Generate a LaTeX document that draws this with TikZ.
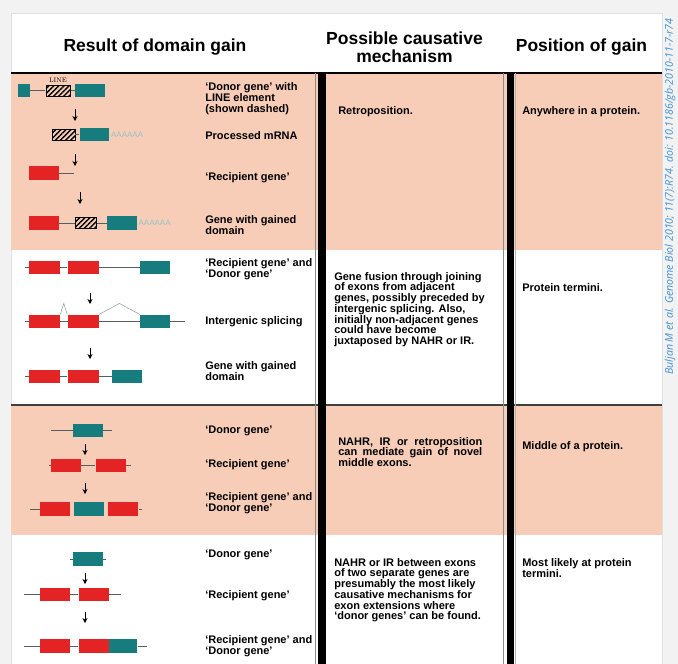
\documentclass[tikz,border=0pt]{standalone}
\usepackage{fontspec}
\setsansfont{Liberation Sans}
\newfontfamily\sidefont{Open Sans}
\usetikzlibrary{arrows.meta, positioning, patterns.meta}

\definecolor{exred}{RGB}{228,36,36}
\definecolor{exteal}{RGB}{22,124,126}
\definecolor{peach}{RGB}{248,205,183}
\definecolor{pagegray}{RGB}{242,242,242}
\definecolor{doiblue}{RGB}{62,144,212}
\definecolor{introngray}{RGB}{85,95,95}
\definecolor{splicegray}{RGB}{150,165,175}

\begin{document}
\begin{tikzpicture}[
            x = 1pt, y = -1pt,
            > = {Stealth[length=5pt, width=5pt]},
            semithick
        ]

        \tikzstyle{exon}=[inner sep=0, minimum width=30pt, minimum height=13.5pt]
        \tikzstyle{red exon}=[exon, fill=exred]
        \tikzstyle{teal exon}=[exon, fill=exteal]
        \tikzstyle{line exon}=[exon, draw=black, thin, minimum height=11pt,
            pattern={Lines[angle=45, distance=3.6pt, line width=1.4pt]}, pattern color=black]
        \tikzstyle{intron}=[draw=introngray, line width=0.7pt]
        \tikzstyle{splice}=[draw=splicegray, line width=0.6pt]
        \tikzstyle{step arrow}=[->, line width=0.9pt]
        \tikzstyle{polya}=[inner sep=0, text=exteal!45, font=\sffamily\fontsize{8}{8}\selectfont]
        \tikzstyle{rowtext}=[anchor=north west, inner sep=0, align=left,
            font=\sffamily\bfseries\fontsize{11}{11}\selectfont]
        \tikzstyle{colhead}=[inner sep=0, align=center,
            font=\sffamily\bfseries\fontsize{17.5}{18}\selectfont]

        \useasboundingbox (0,0) rectangle (678,664);

        % page, panel and table
        \fill[pagegray] (0,0) rectangle (678,664);
        \fill[white] (11,13) rectangle (662,664);
        \draw[black!12] (11,664) -- (11,13) -- (662,13) -- (662,664);
        \fill[peach] (11,73) rectangle (662,250);
        \fill[peach] (11,405) rectangle (662,535);
        \draw[line width=2pt] (11,73) -- (662,73);
        \draw[black!75, line width=1.1pt] (11,405) -- (662,405);
        \draw[black!45, line width=0.9pt] (315,73) -- (315,664);
        \fill[black] (318,73) rectangle (326,664);
        \draw[black!45, line width=0.9pt] (503.5,73) -- (503.5,664);
        \fill[black] (507,73) rectangle (514,664);
        \draw[black!30, line width=0.6pt] (515.5,73) -- (515.5,664);

        \node[colhead] (hresult) at (155,47) {Result of domain gain};
        \node[colhead] (hmech) at (404.5,47) {Possible causative\\mechanism};
        \node[colhead] (hpos) at (581.5,47) {Position of gain};

        % retroposition
        \node[teal exon, minimum width=12pt] (dg1) at (24,90.5) {};
        \node[line exon, minimum width=24pt, right=15pt of dg1] (dgl) {};
        \node[teal exon, right=4pt of dgl] (dg2) {};
        \node[inner sep=0, font=\rmfamily\fontsize{6.5}{6.5}\selectfont, above=2pt of dgl] (linetag) {LINE};
        \draw[intron] (dg1) -- (dgl) (dgl) -- (dg2);

        \node[line exon, minimum width=23pt] (ml) at (63.5,134.5) {};
        \node[teal exon, minimum width=29pt, right=4pt of ml] (mt) {};
        \node[polya, right=2pt of mt] (mpa) {AAAAAA};
        \draw[intron] (ml) -- (mt);

        \node[red exon] (rg1) at (44,173) {};
        \coordinate (rg1end) at (74,173);
        \draw[intron] (rg1) -- (rg1end);

        \node[red exon] (gg1) at (44,223) {};
        \node[line exon, minimum width=21pt, right=16pt of gg1] (ggl) {};
        \node[teal exon, right=10pt of ggl] (gg2) {};
        \node[polya, right=1pt of gg2] (gpa) {AAAAAA};
        \draw[intron] (gg1) -- (ggl) (ggl) -- (gg2);

        \coordinate (a1s) at (75,109);  \coordinate (a1e) at (75,121);
        \coordinate (a2s) at (75,154);  \coordinate (a2e) at (75,166);
        \coordinate (a3s) at (80,192);  \coordinate (a3e) at (80,204);
        \path[step arrow] (a1s) edge (a1e) (a2s) edge (a2e) (a3s) edge (a3e);

        \node[rowtext] (t11) at (205,82) {`Donor gene' with\\LINE element\\(shown dashed)};
        \node[rowtext] (t12) at (205,131) {Processed mRNA};
        \node[rowtext] (t13) at (205,172) {`Recipient gene'};
        \node[rowtext] (t14) at (205,215) {Gene with gained\\domain};

        % gene fusion
        \coordinate (fl) at (25,267.5);
        \node[red exon, minimum width=31pt] (fr1) at (44.5,267.5) {};
        \node[red exon, minimum width=31pt, right=7pt of fr1] (fr2) {};
        \node[teal exon, right=41pt of fr2] (fd1) {};
        \draw[intron] (fl) -- (fr1) (fr1) -- (fr2) (fr2) -- (fd1);

        \coordinate (sl) at (25,321.5);
        \coordinate (sr) at (185,321.5);
        \draw[intron] (sl) -- (sr);
        \node[red exon, minimum width=31pt] (sr1) at (44.5,321.5) {};
        \node[red exon, minimum width=31pt, right=7pt of sr1] (sr2) {};
        \node[teal exon, right=41pt of sr2] (sd1) {};
        \draw[splice] (sr1.north east) -- ++(3.5,-11) -- (sr2.north west);
        \draw[splice] (sr2.north east) -- ++(20.5,-11) -- (sd1.north west);

        \coordinate (jl) at (25,376.5);
        \node[red exon, minimum width=31pt] (jr1) at (44.5,376.5) {};
        \node[red exon, minimum width=31pt, right=7pt of jr1] (jr2) {};
        \node[teal exon, right=13pt of jr2] (jd1) {};
        \draw[intron] (jl) -- (jr1) (jr1) -- (jr2) (jr2) -- (jd1);

        \coordinate (b1s) at (90,293);  \coordinate (b1e) at (90,304);
        \coordinate (b2s) at (90,348);  \coordinate (b2e) at (90,359);
        \path[step arrow] (b1s) edge (b1e) (b2s) edge (b2e);

        \node[rowtext] (t21) at (205,258) {`Recipient gene' and\\`Donor gene'};
        \node[rowtext] (t22) at (205,316) {Intergenic splicing};
        \node[rowtext] (t23) at (205,361) {Gene with gained\\domain};

        % middle exons
        \coordinate (m1l) at (51,430.5);  \coordinate (m1r) at (112,430.5);
        \node[teal exon] (md) at (88,430.5) {};
        \draw[intron] (m1l) -- (md) -- (m1r);

        \coordinate (m2l) at (49,465.5);  \coordinate (m2r) at (131,465.5);
        \node[red exon] (mr1) at (66,465.5) {};
        \node[red exon, right=14pt of mr1] (mr2) {};
        \draw[intron] (m2l) -- (mr1) -- (mr2) -- (m2r);

        \coordinate (m3l) at (30,509);  \coordinate (m3r) at (142,509);
        \node[red exon] (mc1) at (55,509) {};
        \node[teal exon, right=3pt of mc1] (mc2) {};
        \node[red exon, right=4pt of mc2] (mc3) {};
        \draw[intron] (m3l) -- (mc1) (mc3) -- (m3r);

        \coordinate (c1s) at (85,444);  \coordinate (c1e) at (85,455);
        \coordinate (c2s) at (85,483);  \coordinate (c2e) at (85,494);
        \path[step arrow] (c1s) edge (c1e) (c2s) edge (c2e);

        \node[rowtext] (t31) at (205,426) {`Donor gene'};
        \node[rowtext] (t32) at (205,459) {`Recipient gene'};
        \node[rowtext] (t33) at (205,492) {`Recipient gene' and\\`Donor gene'};

        % exon extension
        \coordinate (e1l) at (70,559);  \coordinate (e1r) at (106,559);
        \node[teal exon] (ed) at (88,559) {};
        \draw[intron] (e1l) -- (ed) -- (e1r);

        \coordinate (e2l) at (24,594.5);  \coordinate (e2r) at (121,594.5);
        \node[red exon] (er1) at (55,594.5) {};
        \node[red exon, right=8pt of er1] (er2) {};
        \draw[intron] (e2l) -- (er1) -- (er2) -- (e2r);

        \coordinate (e3l) at (24,646);  \coordinate (e3r) at (147,646);
        \node[red exon] (ec1) at (55,646) {};
        \node[red exon, right=8pt of ec1] (ec2) {};
        \node[teal exon, minimum width=28pt, right=0pt of ec2] (ec3) {};
        \draw[intron] (e3l) -- (ec1) -- (ec2) (ec3) -- (e3r);

        \coordinate (d1s) at (85,573);  \coordinate (d1e) at (85,584);
        \coordinate (d2s) at (85,612);  \coordinate (d2e) at (85,623);
        \path[step arrow] (d1s) edge (d1e) (d2s) edge (d2e);

        \node[rowtext] (t41) at (205,550) {`Donor gene'};
        \node[rowtext] (t42) at (205,590) {`Recipient gene'};
        \node[rowtext] (t43) at (205,635) {`Recipient gene' and\\`Donor gene'};

        % mechanisms
        \node[rowtext] (mech1) at (338,106) {Retroposition.};
        \node[rowtext, font=\sffamily\bfseries\fontsize{11}{10.7}\selectfont] (mech2) at (334,272)
            {Gene fusion through joining\\of exons from adjacent\\genes, possibly preceded by\\intergenic splicing. Also,\\initially non-adjacent genes\\could have become\\juxtaposed by NAHR or IR.};
        \node[rowtext, text width=144pt, align=justify, font=\sffamily\bfseries\fontsize{11}{10.7}\selectfont] (mech3) at (338,437)
            {NAHR, IR or retroposition can mediate gain of novel middle exons.};
        \node[rowtext, font=\sffamily\bfseries\fontsize{11}{10.7}\selectfont] (mech4) at (334,558)
            {NAHR or IR between exons\\of two separate genes are\\presumably the most likely\\causative mechanisms for\\exon extensions where\\`donor genes' can be found.};

        % positions
        \node[rowtext] (pos1) at (522,106) {Anywhere in a protein.};
        \node[rowtext] (pos2) at (522,283) {Protein termini.};
        \node[rowtext] (pos3) at (522,441) {Middle of a protein.};
        \node[rowtext] (pos4) at (522,558) {Most likely at protein\\termini.};

        \node[rotate=90, anchor=west, inner sep=0, text=doiblue,
            font=\sidefont\itshape\fontsize{10.6}{10.6}\selectfont] (cite) at (670,375)
            {Buljan M et al. Genome Biol 2010; 11(7):R74. doi: 10.1186/gb-2010-11-7-r74};

\end{tikzpicture}
\end{document}
